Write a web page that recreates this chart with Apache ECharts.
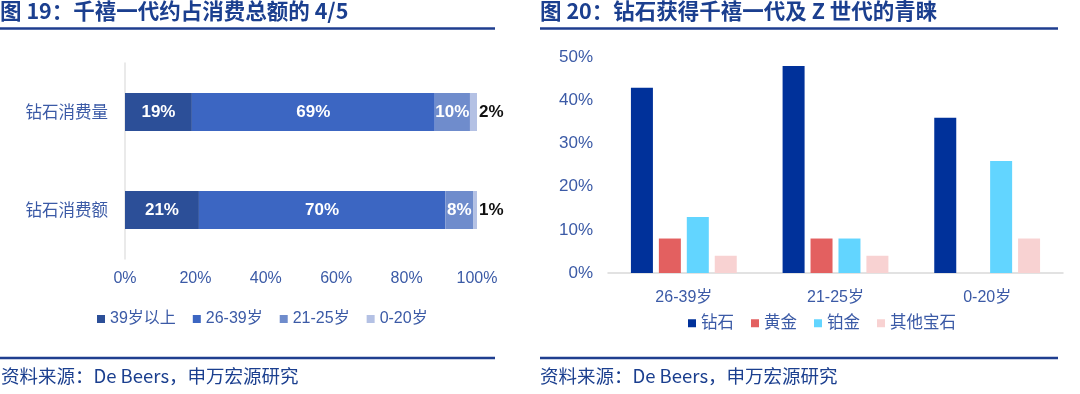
<!DOCTYPE html>
<html><head><meta charset="utf-8">
<script src="https://cdn.jsdelivr.net/npm/echarts@6/dist/echarts.min.js"></script>
<style>html,body{margin:0;padding:0;background:#fff}#c{width:1080px;height:394px}</style>
</head><body><div id="c"></div>
<script>
// Left chart (图19)
const leftCategories = ['钻石消费量', '钻石消费额'];
const leftSeriesNames = ['39岁以上', '26-39岁', '21-25岁', '0-20岁'];
const leftValues = [
  [19, 21],  // 39岁以上
  [69, 70],  // 26-39岁
  [10, 8],   // 21-25岁
  [2, 1]     // 0-20岁
];
const leftTicks = [0, 20, 40, 60, 80, 100];
// Right chart (图20)
const rightCategories = ['26-39岁', '21-25岁', '0-20岁'];
const rightSeriesNames = ['钻石', '黄金', '铂金', '其他宝石'];
const rightValues = [
  [43, 48, 36], // 钻石
  [8, 8, 0],    // 黄金
  [13, 8, 26],  // 铂金
  [4, 4, 8]     // 其他宝石
];
const rightTicks = [0, 10, 20, 30, 40, 50];

const titleBlue = '#1b3f8f';
const labelBlue = '#3b5aa6';
const FONT = '"Liberation Sans", "Noto Sans CJK SC", sans-serif';
const CJK = '"Noto Sans CJK SC", sans-serif';
const leftColors = ['#2c4f98', '#3c66c2', '#6f8ccc', '#b4c1e4'];
const rightColors = ['#00319a', '#e36060', '#62d5ff', '#f8d2d2'];

const chart = echarts.init(document.getElementById('c'));
const series = [];
leftSeriesNames.forEach((n, i) => {
  const last = i === leftSeriesNames.length - 1;
  series.push({
    name: n, type: 'bar', stack: 'L', xAxisIndex: 0, yAxisIndex: 0,
    data: leftValues[i], barWidth: 38, itemStyle: { color: leftColors[i] },
    label: {
      show: true, formatter: '{c}%', position: last ? 'right' : 'inside',
      distance: 2, color: last ? '#111' : '#fff', fontWeight: 'bold',
      fontSize: 17, fontFamily: FONT
    }
  });
});
rightSeriesNames.forEach((n, i) => {
  series.push({
    name: n, type: 'bar', xAxisIndex: 1, yAxisIndex: 1,
    data: rightValues[i], barWidth: 22, barGap: '27%',
    itemStyle: { color: rightColors[i] }
  });
});

chart.setOption({
  animation: false,
  textStyle: { fontFamily: FONT },
  title: [
    { text: '图 19：千禧一代约占消费总额的 4/5', left: 0, top: 0, padding: 0,
      textStyle: { fontFamily: CJK, fontSize: 21.5, fontWeight: 'bold', color: titleBlue } },
    { text: '图 20：钻石获得千禧一代及 Z 世代的青睐', left: 540, top: 0, padding: 0,
      textStyle: { fontFamily: CJK, fontSize: 21.5, fontWeight: 'bold', color: titleBlue } },
    { text: '资料来源：De Beers，申万宏源研究', left: 1, top: 367, padding: 0,
      textStyle: { fontFamily: CJK, fontSize: 18.5, fontWeight: 'normal', color: titleBlue } },
    { text: '资料来源：De Beers，申万宏源研究', left: 540, top: 367, padding: 0,
      textStyle: { fontFamily: CJK, fontSize: 18.5, fontWeight: 'normal', color: titleBlue } }
  ],
  graphic: [
    { type: 'line', shape: { x1: 0, y1: 28.5, x2: 495, y2: 28.5 }, style: { stroke: '#1f3e8f', lineWidth: 2.5 } },
    { type: 'line', shape: { x1: 540, y1: 28.5, x2: 1058, y2: 28.5 }, style: { stroke: '#1f3e8f', lineWidth: 2.5 } },
    { type: 'line', shape: { x1: 0, y1: 358, x2: 495, y2: 358 }, style: { stroke: '#1f3e8f', lineWidth: 2.5 } },
    { type: 'line', shape: { x1: 540, y1: 358, x2: 1058, y2: 358 }, style: { stroke: '#1f3e8f', lineWidth: 2.5 } }
  ],
  legend: [
    { data: leftSeriesNames, left: 97, top: 311, itemWidth: 8, itemHeight: 8, itemGap: 17,
      icon: 'rect', padding: 0, textStyle: { color: labelBlue, fontSize: 16, fontFamily: FONT } },
    { data: rightSeriesNames, left: 688, top: 315, itemWidth: 8, itemHeight: 8, itemGap: 17,
      icon: 'rect', padding: 0, textStyle: { color: labelBlue, fontSize: 16.5, fontFamily: FONT } }
  ],
  grid: [
    { left: 125, right: 603, top: 63, bottom: 135 },
    { left: 608, right: 17, top: 57.5, bottom: 121 }
  ],
  xAxis: [
    { type: 'value', gridIndex: 0, min: leftTicks[0], max: leftTicks[leftTicks.length - 1],
      interval: leftTicks[1] - leftTicks[0],
      axisLine: { show: false }, axisTick: { show: false }, splitLine: { show: false },
      axisLabel: { formatter: '{value}%', color: labelBlue, fontSize: 16, margin: 12 } },
    { type: 'category', gridIndex: 1, data: rightCategories,
      axisLine: { show: true, lineStyle: { color: '#d9d9d9', width: 1.5 } }, axisTick: { show: false },
      axisLabel: { color: labelBlue, fontSize: 16, margin: 17 } }
  ],
  yAxis: [
    { type: 'category', gridIndex: 0, data: leftCategories, inverse: true,
      axisLine: { show: true, lineStyle: { color: '#e3e3e3', width: 1.5 } }, axisTick: { show: false },
      axisLabel: { color: labelBlue, fontSize: 16.5, margin: 17, fontFamily: CJK } },
    { type: 'value', gridIndex: 1, min: rightTicks[0], max: rightTicks[rightTicks.length - 1],
      interval: rightTicks[1] - rightTicks[0],
      axisLine: { show: false }, axisTick: { show: false }, splitLine: { show: false },
      axisLabel: { formatter: '{value}%', color: labelBlue, fontSize: 17, margin: 15 } }
  ],
  series: series
});
</script></body></html>
